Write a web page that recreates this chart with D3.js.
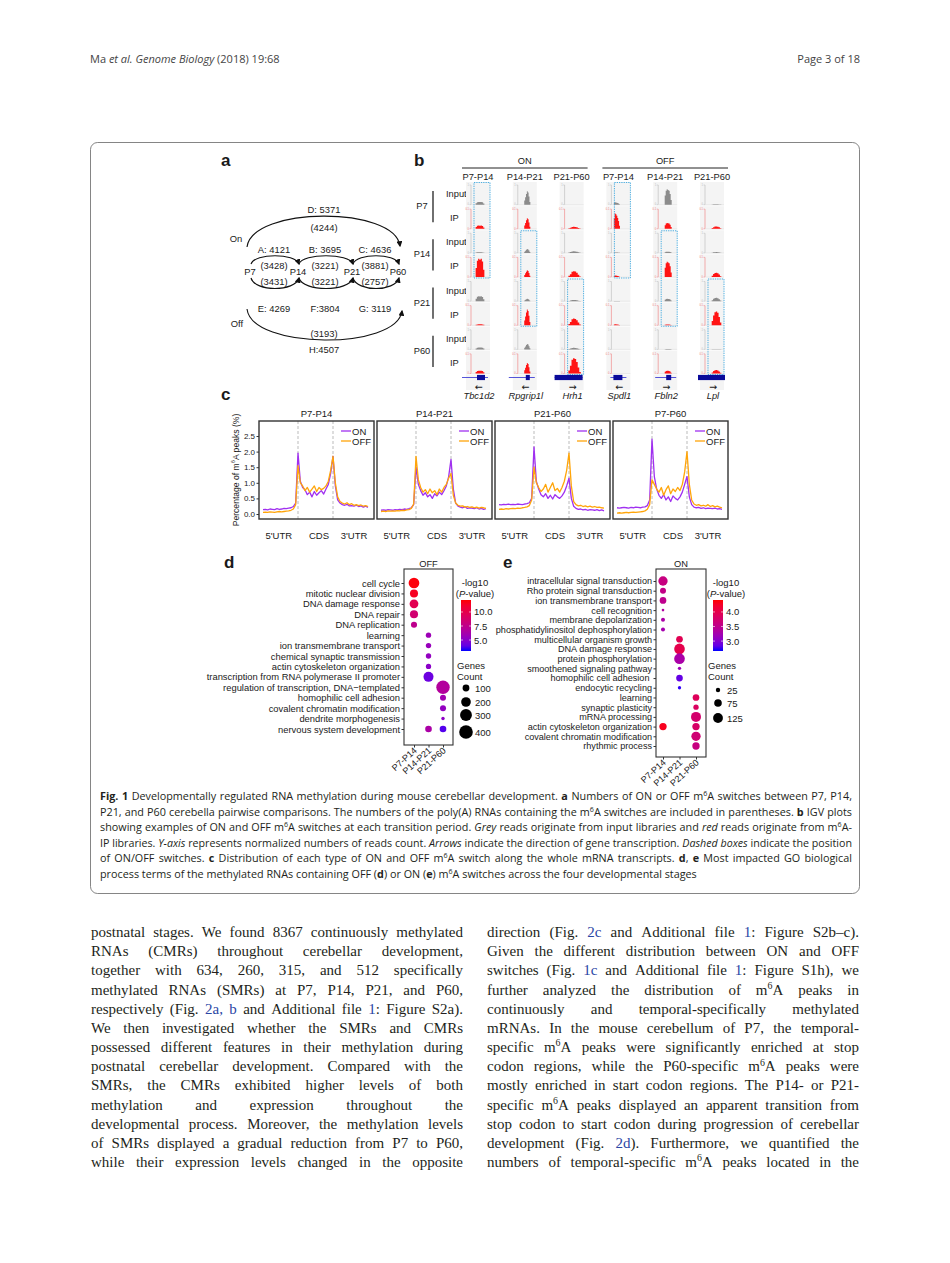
<!DOCTYPE html>
<html>
<head>
<meta charset="utf-8">
<script src="https://d3js.org/d3.v7.min.js"></script>
<style>
  body { margin: 0; background: #fff; }
</style>
</head>
<body>
<svg width="950" height="1263"></svg>
<script>
// ---------- data ----------
// panel a: [letter, separator, m6A switches, RNAs]
var stages = ["P7", "P14", "P21", "P60"];
var onSteps = [["A", ": ", 4121, 3428], ["B", ": ", 3695, 3221], ["C", ": ", 4636, 3881]];
var offSteps = [["E", ": ", 4269, 3431], ["F", ":", 3804, 3221], ["G", ": ", 3119, 2757]];
var onLong = ["D", ": ", 5371, 4244];
var offLong = ["H", ":", 4507, 3193];

// panel b
var igvGroups = ["ON", "OFF"];
var igvCols = ["P7-P14", "P14-P21", "P21-P60", "P7-P14", "P14-P21", "P21-P60"];
var igvGenes = ["Tbc1d2", "Rpgrip1l", "Hrh1", "Spdl1", "Fbln2", "Lpl"];
var igvStrand = ["\u2190", "\u2190", "\u2192", "\u2190", "\u2192", "\u2192"];
var igvStages = ["P7", "P14", "P21", "P60"];
var igvTracks = ["Input", "IP", "Input", "IP", "Input", "IP", "Input", "IP"];
// relative peak height, rows = tracks, cols = genes
var igvHeights = [
  [0.14, 0.70, 0.00, 0.12, 0.80, 0.02],
  [0.17, 0.55, 0.10, 0.80, 0.30, 0.12],
  [0.03, 0.20, 0.08, 0.02, 0.06, 0.04],
  [0.95, 0.35, 0.30, 0.08, 0.80, 0.22],
  [0.25, 0.12, 0.06, 0.01, 0.12, 0.17],
  [0.05, 0.83, 0.35, 0.05, 0.04, 0.72],
  [0.10, 0.28, 0.08, 0.00, 0.02, 0.01],
  [0.15, 0.55, 0.80, 0.00, 0.15, 0.18]
];
// coverage shape of each gene's peak
var igvShape = [
  [0, 0.5, 0.9, 1, 0.95, 1, 0.85, 0.4, 0],
  [0, 0.3, 0.55, 0.8, 1, 0.9, 0.6, 0.2, 0],
  [0, 0.2, 0.5, 0.9, 1, 0.95, 0.75, 0.4, 0.1, 0],
  [0, 0.7, 1, 0.95, 0.85, 0.7, 0.5, 0.2, 0],
  [0, 0.6, 0.9, 1, 0.95, 0.9, 0.7, 0.3, 0],
  [0, 0.3, 0.7, 0.95, 1, 0.9, 0.6, 0.2, 0]
];
var igvSwitchRow = [0, 2, 4, 0, 2, 4];

// panel c: 46 points each, 5'UTR | CDS | 3'UTR
var cPanels = ["P7-P14", "P14-P21", "P21-P60", "P7-P60"];
var cRegions = ["5'UTR", "CDS", "3'UTR"];
var cYTicks = [0, 0.5, 1, 1.5, 2, 2.5];
var cOn = [
  [0.14,0.15,0.13,0.16,0.15,0.14,0.17,0.15,0.16,0.18,0.17,0.19,0.2,0.24,0.35,
   1.95,1.05,0.85,0.78,0.62,0.7,0.55,0.72,0.6,0.68,0.75,0.64,0.8,0.95,1.3,
   1.85,0.9,0.45,0.35,0.3,0.28,0.31,0.26,0.27,0.25,0.28,0.24,0.26,0.22,0.25,0.21],
  [0.12,0.13,0.12,0.14,0.13,0.12,0.14,0.13,0.15,0.14,0.16,0.15,0.17,0.2,0.3,
   1.5,0.95,0.75,0.6,0.68,0.55,0.62,0.5,0.65,0.58,0.7,0.62,0.75,0.9,1.2,
   1.75,0.8,0.35,0.25,0.22,0.2,0.23,0.18,0.2,0.19,0.17,0.2,0.16,0.18,0.15,0.17],
  [0.3,0.29,0.31,0.3,0.32,0.3,0.31,0.3,0.32,0.31,0.3,0.32,0.33,0.36,0.5,
   2.15,1.05,0.8,0.62,0.55,0.65,0.5,0.6,0.48,0.62,0.55,0.5,0.58,0.7,0.9,
   1.15,0.5,0.25,0.18,0.15,0.16,0.13,0.15,0.12,0.14,0.13,0.12,0.14,0.11,0.13,0.1],
  [0.2,0.19,0.2,0.21,0.2,0.19,0.21,0.2,0.22,0.21,0.2,0.22,0.23,0.27,0.45,
   2.4,1.2,0.8,0.6,0.5,0.62,0.45,0.55,0.4,0.58,0.5,0.45,0.55,0.7,0.95,
   1.2,0.55,0.3,0.22,0.2,0.21,0.18,0.2,0.17,0.19,0.18,0.17,0.19,0.16,0.17,0.15]
];
var cOff = [
  [0.05,0.06,0.05,0.07,0.06,0.05,0.07,0.08,0.07,0.08,0.09,0.1,0.12,0.16,0.3,
   1.55,1.0,0.9,0.75,0.85,0.7,0.8,0.9,0.72,0.85,0.78,0.82,0.9,1.05,1.4,
   1.85,1.0,0.55,0.4,0.35,0.32,0.36,0.3,0.33,0.28,0.3,0.27,0.29,0.25,0.27,0.24],
  [0.08,0.09,0.08,0.1,0.09,0.1,0.09,0.11,0.1,0.12,0.11,0.13,0.14,0.18,0.32,
   1.85,1.1,0.85,0.7,0.78,0.65,0.8,0.68,0.75,0.62,0.8,0.7,0.85,0.95,1.15,
   1.3,0.6,0.35,0.28,0.25,0.26,0.22,0.24,0.21,0.23,0.2,0.22,0.19,0.21,0.2,0.18],
  [0.15,0.16,0.15,0.17,0.16,0.17,0.18,0.17,0.19,0.18,0.2,0.21,0.23,0.27,0.45,
   1.5,1.0,0.85,0.72,0.8,0.95,0.7,0.85,1.0,0.75,0.82,0.7,0.85,1.05,1.4,
   1.95,0.9,0.4,0.3,0.26,0.28,0.24,0.26,0.23,0.25,0.22,0.24,0.21,0.22,0.2,0.19],
  [0.03,0.04,0.03,0.04,0.05,0.04,0.05,0.06,0.05,0.06,0.07,0.08,0.1,0.15,0.3,
   1.1,0.95,0.8,0.7,0.85,0.6,0.78,0.9,0.65,0.8,0.72,0.85,0.75,0.95,1.35,
   2.0,0.95,0.45,0.32,0.28,0.3,0.26,0.28,0.25,0.3,0.24,0.27,0.23,0.25,0.22,0.2]
];

// panels d, e: [term, stage, gene count, -log10 P]
var dotStages = ["P7-P14", "P14-P21", "P21-P60"];
var offTerms = ["cell cycle", "mitotic nuclear division", "DNA damage response", "DNA repair",
  "DNA replication", "learning", "ion transmembrane transport", "chemical synaptic transmission",
  "actin cytoskeleton organization", "transcription from RNA polymerase II promoter",
  "regulation of transcription, DNA\u2212templated", "homophilic cell adhesion",
  "covalent chromatin modification", "dendrite morphogenesis", "nervous system development"];
var offDots = [
  ["cell cycle", "P7-P14", 245, 12.0], ["mitotic nuclear division", "P7-P14", 140, 11.5],
  ["DNA damage response", "P7-P14", 165, 9.8], ["DNA repair", "P7-P14", 140, 8.6],
  ["DNA replication", "P7-P14", 80, 7.4], ["learning", "P14-P21", 62, 5.8],
  ["ion transmembrane transport", "P14-P21", 62, 5.6], ["chemical synaptic transmission", "P14-P21", 62, 5.4],
  ["actin cytoskeleton organization", "P14-P21", 60, 5.1],
  ["transcription from RNA polymerase II promoter", "P14-P21", 215, 4.2],
  ["regulation of transcription, DNA\u2212templated", "P21-P60", 385, 6.8],
  ["homophilic cell adhesion", "P21-P60", 78, 6.0], ["covalent chromatin modification", "P21-P60", 78, 5.4],
  ["dendrite morphogenesis", "P21-P60", 25, 5.2], ["nervous system development", "P14-P21", 95, 6.4],
  ["nervous system development", "P21-P60", 95, 3.7]
];
var offSizeLegend = [100, 200, 300, 400];
var offColorTicks = [5.0, 7.5, 10.0];

var onTerms = ["intracellular signal transduction", "Rho protein signal transduction",
  "ion transmembrane transport", "cell recognition", "membrane depolarization",
  "phosphatidylinositol dephosphorylation", "multicellular organism growth", "DNA damage response",
  "protein phosphorylation", "smoothened signaling pathway", "homophilic cell adhesion ",
  "endocytic recycling", "learning", "synaptic plasticity", "mRNA processing",
  "actin cytoskeleton organization", "covalent chromatin modification", "rhythmic process"];
var onDots = [
  ["intracellular signal transduction", "P7-P14", 113, 3.6], ["Rho protein signal transduction", "P7-P14", 47, 3.55],
  ["ion transmembrane transport", "P7-P14", 58, 3.5], ["cell recognition", "P7-P14", 9, 3.35],
  ["membrane depolarization", "P7-P14", 21, 3.3], ["phosphatidylinositol dephosphorylation", "P7-P14", 21, 3.25],
  ["multicellular organism growth", "P14-P21", 58, 3.95], ["DNA damage response", "P14-P21", 148, 4.0],
  ["protein phosphorylation", "P14-P21", 148, 3.3], ["smoothened signaling pathway", "P14-P21", 14, 3.2],
  ["homophilic cell adhesion ", "P14-P21", 58, 2.85], ["endocytic recycling", "P14-P21", 14, 2.7],
  ["learning", "P21-P60", 58, 3.9], ["synaptic plasticity", "P21-P60", 37, 3.85],
  ["mRNA processing", "P21-P60", 130, 3.75], ["actin cytoskeleton organization", "P7-P14", 70, 4.3],
  ["actin cytoskeleton organization", "P21-P60", 70, 3.8], ["covalent chromatin modification", "P21-P60", 113, 3.7],
  ["rhythmic process", "P21-P60", 70, 3.6]
];
var onSizeLegend = [25, 75, 125];
var onColorTicks = [3.0, 3.5, 4.0];

// page text
var headerLeft = "Ma *et al.* *Genome Biology* (2018) 19:68";
var headerRight = "Page 3 of 18";
var captionLines = [
  "**Fig. 1** Developmentally regulated RNA methylation during mouse cerebellar development. **a** Numbers of ON or OFF m^6A switches between P7, P14,",
  "P21, and P60 cerebella pairwise comparisons. The numbers of the poly(A) RNAs containing the m^6A switches are included in parentheses. **b** IGV plots",
  "showing examples of ON and OFF m^6A switches at each transition period. *Grey* reads originate from input libraries and *red* reads originate from m^6A-",
  "IP libraries. *Y-axis* represents normalized numbers of reads count. *Arrows* indicate the direction of gene transcription. *Dashed boxes* indicate the position",
  "of ON/OFF switches. **c** Distribution of each type of ON and OFF m^6A switch along the whole mRNA transcripts. **d**, **e** Most impacted GO biological",
  "process terms of the methylated RNAs containing OFF (**d**) or ON (**e**) m^6A switches across the four developmental stages"
];
var leftColumn = [
  "postnatal stages. We found 8367 continuously methylated",
  "RNAs (CMRs) throughout cerebellar development,",
  "together with 634, 260, 315, and 512 specifically",
  "methylated RNAs (SMRs) at P7, P14, P21, and P60,",
  "respectively (Fig. [2a,] [b] and Additional file [1]: Figure S2a).",
  "We then investigated whether the SMRs and CMRs",
  "possessed different features in their methylation during",
  "postnatal cerebellar development. Compared with the",
  "SMRs, the CMRs exhibited higher levels of both",
  "methylation and expression throughout the",
  "developmental process. Moreover, the methylation levels",
  "of SMRs displayed a gradual reduction from P7 to P60,",
  "while their expression levels changed in the opposite"
];
var rightColumn = [
  "direction (Fig. [2c] and Additional file [1]: Figure S2b\u2013c).",
  "Given the different distribution between ON and OFF",
  "switches (Fig. [1c] and Additional file [1]: Figure S1h), we",
  "further analyzed the distribution of m^6A peaks in",
  "continuously and temporal-specifically methylated",
  "mRNAs. In the mouse cerebellum of P7, the temporal-",
  "specific m^6A peaks were significantly enriched at stop",
  "codon regions, while the P60-specific m^6A peaks were",
  "mostly enriched in start codon regions. The P14- or P21-",
  "specific m^6A peaks displayed an apparent transition from",
  "stop codon to start codon during progression of cerebellar",
  "development (Fig. [2d]). Furthermore, we quantified the",
  "numbers of temporal-specific m^6A peaks located in the"
];

// ---------- drawing ----------
var svg = d3.select("svg");
svg.append("rect").attr("width", 950).attr("height", 1263).attr("fill", "#fff");
var defs = svg.append("defs");
var fig = svg.append("g").attr("font-family", "Liberation Sans, Arial, sans-serif").attr("fill", "#1a1a1a");

// rich text helpers (markup: **bold**, *italic*, ^sup, [link])
function parseRich(str) {
  var parts = str.split(/(\*\*[^*]+\*\*|\*[^*]+\*|\^\d|\[[^\]]+\])/).filter(function(s) { return s.length; });
  var segs = parts.map(function(p) {
    if (p.slice(0, 2) === "**") return {t: p.slice(2, -2), s: "b"};
    if (p[0] === "*") return {t: p.slice(1, -1), s: "i"};
    if (p[0] === "^") return {t: p.slice(1), s: "sup"};
    if (p[0] === "[") return {t: p.slice(1, -1), s: "link"};
    return {t: p, s: ""};
  });
  var words = [[]];
  segs.forEach(function(seg) {
    seg.t.split(" ").forEach(function(pc, j) {
      if (j > 0) words.push([]);
      if (pc.length) words[words.length - 1].push({t: pc, s: seg.s});
    });
  });
  return words.filter(function(w) { return w.length; });
}

function drawWord(g, word, st) {
  var t = g.append("text").attr("font-family", st.family).attr("font-size", st.size).attr("fill", st.color);
  var up = false;
  word.forEach(function(p) {
    var ts = t.append("tspan").text(p.t);
    if (up) { ts.attr("dy", st.size * 0.38); up = false; }
    if (p.s === "b") ts.attr("font-weight", "bold");
    if (p.s === "i") ts.attr("font-style", "italic");
    if (p.s === "link") ts.attr("fill", st.link);
    if (p.s === "sup") { ts.attr("font-size", st.size * 0.66).attr("dy", -st.size * 0.38); up = true; }
  });
  return t;
}

// lays a line out over width W; returns the horizontal squeeze used
function textLine(parent, str, x, y, W, st, justify, kFixed) {
  var g = parent.append("g");
  var words = parseRich(str);
  var nodes = words.map(function(w) { return drawWord(g, w, st); });
  var widths = nodes.map(function(n) { return n.node().getComputedTextLength(); });
  var sum = d3.sum(widths), n = words.length, sp = st.size * 0.26;
  var k = 1, gap = sp;
  if (justify) {
    if (sum + (n - 1) * sp > W) { k = W / (sum + (n - 1) * sp); gap = sp * k; }
    else gap = (W - sum) / (n - 1);
  } else if (kFixed) { k = kFixed; gap = sp * k; }
  var cx = x;
  nodes.forEach(function(nd, i) {
    nd.attr("transform", "translate(" + cx + "," + y + ") scale(" + k + ",1)");
    cx += widths[i] * k + gap;
  });
  return k;
}

// ---- header ----
var hdrStyle = {family: "Open Sans, sans-serif", size: 11, color: "#444", link: "#444"};
textLine(svg, headerLeft, 90, 63, 0, hdrStyle, false, 1);
svg.append("text").attr("x", 860).attr("y", 63).attr("text-anchor", "end")
  .attr("font-family", "Open Sans, sans-serif").attr("font-size", 11).attr("fill", "#444").text(headerRight);

// ---- figure frame ----
svg.append("rect").attr("x", 90.5).attr("y", 142.5).attr("width", 769).attr("height", 751)
  .attr("rx", 7).attr("fill", "none").attr("stroke", "#666").attr("stroke-width", 0.8);

function panelLetter(t, x, y) {
  fig.append("text").attr("x", x).attr("y", y).attr("font-size", 17).attr("font-weight", "bold")
    .attr("dominant-baseline", "central").text(t);
}
panelLetter("a", 221, 160);
panelLetter("b", 414, 160);
panelLetter("c", 221, 394);
panelLetter("d", 224, 562);
panelLetter("e", 503, 562);

// ---- panel a ----
defs.append("marker").attr("id", "arr").attr("viewBox", "0 0 10 10").attr("refX", 8).attr("refY", 5)
  .attr("markerWidth", 6).attr("markerHeight", 6).attr("markerUnits", "userSpaceOnUse").attr("orient", "auto")
  .append("path").attr("d", "M0,0L10,5L0,10z").attr("fill", "#111");

var gA = fig.append("g").attr("font-size", 9.4).attr("text-anchor", "middle");
var ax = d3.scaleOrdinal().domain(stages).range([250, 298, 352, 398]);
function arcPath(x0, y0, x1, y1, cy, dx) {
  return "M" + x0 + "," + y0 + "C" + (x0 + dx) + "," + cy + " " + (x1 - dx) + "," + cy + " " + x1 + "," + y1;
}
function aText(x, y, t) {
  gA.append("text").attr("x", x).attr("y", y).attr("dominant-baseline", "central").text(t);
}
stages.forEach(function(s) { aText(ax(s), 271, s); });
onSteps.forEach(function(d, i) {
  var x0 = ax(stages[i]) + 1, x1 = ax(stages[i + 1]) + 1, xm = (ax(stages[i]) + ax(stages[i + 1])) / 2;
  gA.append("path").attr("d", arcPath(x0, 264, x1, 264, 253, 4)).attr("fill", "none")
    .attr("stroke", "#111").attr("stroke-width", 1.1).attr("marker-end", "url(#arr)");
  aText(xm, 249, d[0] + d[1] + d[2]);
  aText(xm, 265, "(" + d[3] + ")");
});
offSteps.forEach(function(d, i) {
  var x0 = ax(stages[i]) + 1, x1 = ax(stages[i + 1]) + 1, xm = (ax(stages[i]) + ax(stages[i + 1])) / 2;
  gA.append("path").attr("d", arcPath(x0, 278, x1, 278, 292, 4)).attr("fill", "none")
    .attr("stroke", "#111").attr("stroke-width", 1.1).attr("marker-end", "url(#arr)");
  aText(xm, 281, "(" + d[3] + ")");
  aText(xm, 308, d[0] + d[1] + d[2]);
});
var xL0 = ax("P7") - 3, xL1 = ax("P60") + 2, xLm = (ax("P7") + ax("P60")) / 2;
gA.append("path").attr("d", arcPath(xL0, 247, xL1, 246, 206, 5)).attr("fill", "none")
  .attr("stroke", "#111").attr("stroke-width", 1.1).attr("marker-end", "url(#arr)");
aText(xLm, 209, onLong[0] + onLong[1] + onLong[2]);
aText(xLm, 227, "(" + onLong[3] + ")");
gA.append("path").attr("d", arcPath(xL0, 309, xL1 + 2, 311, 350, 5)).attr("fill", "none")
  .attr("stroke", "#111").attr("stroke-width", 1.1).attr("marker-end", "url(#arr)");
aText(xLm, 333, "(" + offLong[3] + ")");
aText(xLm, 349, offLong[0] + offLong[1] + offLong[2]);
aText(236, 238, "On");
aText(237, 323, "Off");

// ---- panel b ----
var gB = fig.append("g").attr("font-size", 9.3);
var bx = d3.scalePoint().domain(d3.range(igvCols.length)).range([471, 705]);
var by = d3.scaleBand().domain(d3.range(igvTracks.length)).range([182, 375]);
var bw = by.bandwidth();

igvGroups.forEach(function(gname, gi) {
  var x0 = bx(gi * 3) - 9, x1 = bx(gi * 3 + 2) + 23;
  gB.append("line").attr("x1", x0).attr("x2", x1).attr("y1", 168).attr("y2", 168)
    .attr("stroke", "#222").attr("stroke-width", 1);
  gB.append("text").attr("x", (x0 + x1) / 2).attr("y", 161).attr("text-anchor", "middle")
    .attr("dominant-baseline", "central").text(gname);
});
igvCols.forEach(function(c, ci) {
  gB.append("text").attr("x", bx(ci) + 7).attr("y", 177).attr("text-anchor", "middle")
    .attr("dominant-baseline", "central").text(c);
});
igvStages.forEach(function(s, si) {
  var yIn = by(si * 2) + bw / 2, yIp = by(si * 2 + 1) + bw / 2;
  gB.append("text").attr("x", 422).attr("y", (yIn + yIp) / 2).attr("text-anchor", "middle")
    .attr("dominant-baseline", "central").text(s);
  gB.append("line").attr("x1", 433).attr("x2", 433).attr("y1", yIn - 3).attr("y2", yIp + 4)
    .attr("stroke", "#222").attr("stroke-width", 1.3);
  gB.append("text").attr("x", 446).attr("y", yIn).attr("dominant-baseline", "central").text(igvTracks[si * 2]);
  gB.append("text").attr("x", 450).attr("y", yIp).attr("dominant-baseline", "central").text(igvTracks[si * 2 + 1]);
});

igvCols.forEach(function(c, ci) {
  var a = bx(ci);
  gB.append("rect").attr("x", a - 5).attr("y", by(0)).attr("width", 24).attr("height", 390 - by(0))
    .attr("fill", "#f4f4f4");
  igvTracks.forEach(function(tr, ri) {
    var top = by(ri), bot = top + bw - 1.5, isIp = tr === "IP";
    var axCol = isIp ? "#f07a7a" : "#b8b8b8";
    gB.append("line").attr("x1", a - 5).attr("x2", a + 19).attr("y1", top + bw - 0.3).attr("y2", top + bw - 0.3)
      .attr("stroke", "#fff").attr("stroke-width", 0.6);
    gB.append("line").attr("x1", a).attr("x2", a).attr("y1", top + 3).attr("y2", bot)
      .attr("stroke", axCol).attr("stroke-width", 0.6);
    gB.append("line").attr("x1", a - 1.5).attr("x2", a).attr("y1", top + 3).attr("y2", top + 3)
      .attr("stroke", axCol).attr("stroke-width", 0.5);
    gB.append("line").attr("x1", a - 1.5).attr("x2", a).attr("y1", bot).attr("y2", bot)
      .attr("stroke", axCol).attr("stroke-width", 0.5);
    gB.append("text").attr("x", a - 2).attr("y", top + 3.8).attr("text-anchor", "end")
      .attr("font-size", 2.6).attr("fill", axCol).text(isIp ? "0.1" : "1");
    gB.append("text").attr("x", a - 2).attr("y", bot + 0.8).attr("text-anchor", "end")
      .attr("font-size", 2.6).attr("fill", axCol).text("0");
    gB.append("line").attr("x1", a).attr("x2", a + 19).attr("y1", bot).attr("y2", bot)
      .attr("stroke", "#d8d8d8").attr("stroke-width", 0.4);
    var shape = igvShape[ci], h = igvHeights[ri][ci];
    var spans = [[4, 14], [6, 13], [3, 17], [2, 9], [6, 14], [6, 17]];
    var sx = d3.scaleLinear().domain([0, shape.length - 1]).range([a + spans[ci][0], a + spans[ci][1]]);
    var sy = d3.scaleLinear().domain([0, 1]).range([bot, top + 3.5]);
    var area = d3.area().x(function(d, i) { return sx(i); }).y0(bot)
      .y1(function(d) { return sy(d * h); }).curve(d3.curveStep);
    gB.append("path").attr("d", area(shape)).attr("fill", isIp ? "#ff1414" : "#8c8c8c");
  });
  // dashed switch box
  var r0 = igvSwitchRow[ci];
  gB.append("rect").attr("x", a + 3).attr("y", by(r0) + 0.5).attr("width", 16)
    .attr("height", by(r0 + 3) + bw - by(r0) - 1).attr("fill", "none").attr("stroke", "#3aa6de")
    .attr("stroke-width", 0.9).attr("stroke-dasharray", "1.3,1");
  // gene model
  var models = [[-9, 17, 6, 14], [-9, 17, 8, 12], [-10, 18, -10, 18], [-1, 15, 2, 11], [-3, 18, 8, 13], [-7, 20, -7, 20]];
  var m = models[ci], gy = 377.5;
  gB.append("line").attr("x1", a + m[0]).attr("x2", a + m[1]).attr("y1", gy).attr("y2", gy)
    .attr("stroke", "#2b2bd0").attr("stroke-width", 0.8);
  gB.append("rect").attr("x", a + m[2]).attr("y", gy - 2.6).attr("width", m[3] - m[2]).attr("height", 5.2)
    .attr("fill", "#0a0a9a");
  gB.append("text").attr("x", a + 8).attr("y", 386).attr("text-anchor", "middle")
    .attr("font-family", "DejaVu Sans, sans-serif").attr("font-size", 9.5)
    .attr("dominant-baseline", "central").text(igvStrand[ci]);
  gB.append("text").attr("x", a + 8).attr("y", 396).attr("text-anchor", "middle").attr("font-style", "italic")
    .attr("dominant-baseline", "central").text(igvGenes[ci]);
});

// ---- panel c ----
var gC = fig.append("g").attr("font-size", 9.5);
var cBoxTop = 421, cBoxBot = 519, cW = 115;
var cPx = d3.scalePoint().domain(cPanels).range([259, 259 + 118 * 3]);
var cx = d3.scaleLinear().domain([0, 3]).range([4, 109]);
var cy = d3.scaleLinear().domain([0, 2.5]).range([514, 436]);
var cRegionX = [0.45, 1.6, 2.6];
var onCol = "#a030f0", offCol = "#ffa50a";

cPanels.forEach(function(p, pi) {
  var x0 = cPx(p);
  var g = gC.append("g").attr("transform", "translate(" + x0 + ",0)");
  g.append("text").attr("x", cW / 2).attr("y", 413).attr("text-anchor", "middle")
    .attr("dominant-baseline", "central").text(p);
  [1, 2].forEach(function(v) {
    g.append("line").attr("x1", cx(v)).attr("x2", cx(v)).attr("y1", cBoxTop).attr("y2", cBoxBot)
      .attr("stroke", "#aaa").attr("stroke-width", 0.8).attr("stroke-dasharray", "3,2");
  });
  var line = d3.line().x(function(d, i) { return cx(i / 15); }).y(function(d) { return cy(d); });
  g.append("path").attr("d", line(cOn[pi])).attr("fill", "none").attr("stroke", onCol).attr("stroke-width", 1.3)
    .attr("stroke-linejoin", "round");
  g.append("path").attr("d", line(cOff[pi])).attr("fill", "none").attr("stroke", offCol).attr("stroke-width", 1.3)
    .attr("stroke-linejoin", "round");
  g.append("rect").attr("x", 0).attr("y", cBoxTop).attr("width", cW).attr("height", cBoxBot - cBoxTop)
    .attr("fill", "none").attr("stroke", "#333").attr("stroke-width", 1.4);
  [["ON", onCol, 431], ["OFF", offCol, 441]].forEach(function(l) {
    g.append("line").attr("x1", 82).attr("x2", 92).attr("y1", l[2]).attr("y2", l[2])
      .attr("stroke", l[1]).attr("stroke-width", 1.3);
    g.append("text").attr("x", 93).attr("y", l[2]).attr("dominant-baseline", "central").text(l[0]);
  });
  cRegions.forEach(function(r, ri) {
    g.append("text").attr("x", cx(cRegionX[ri])).attr("y", 535).attr("text-anchor", "middle")
      .attr("dominant-baseline", "central").text(r);
  });
});
var cAxis = gC.append("g").attr("transform", "translate(" + cPx(cPanels[0]) + ",0)")
  .call(d3.axisLeft(cy).tickValues(cYTicks).tickFormat(d3.format(".1f")).tickSize(2.5).tickPadding(1.5));
cAxis.select(".domain").remove();
cAxis.selectAll("text").attr("font-size", 8).attr("font-family", "Liberation Sans, Arial, sans-serif").attr("fill", "#1a1a1a");
cAxis.selectAll("line").attr("stroke", "#333");
var yl = gC.append("text").attr("transform", "translate(236,470) rotate(-90)").attr("text-anchor", "middle")
  .attr("dominant-baseline", "central").attr("font-size", 8.6);
yl.append("tspan").text("Percentage of m");
yl.append("tspan").attr("font-size", 5.8).attr("dy", -3).text("6");
yl.append("tspan").attr("dy", 3).text("A peaks (%)");

// ---- panels d, e ----
function dotPanel(cfg) {
  var g = fig.append("g").attr("font-size", cfg.fs);
  var y = d3.scalePoint().domain(cfg.terms).range([cfg.r0, cfg.r1]);
  var x = d3.scalePoint().domain(dotStages).range([cfg.c0, cfg.c1]);
  var col = d3.scaleLinear().domain(cfg.cdom).range(["#0000ff", "#ff0000"]).interpolate(d3.interpolateLab);
  var size = d3.scaleSqrt().domain([0, cfg.smax]).range([0, cfg.rmax]);

  g.append("text").attr("x", (cfg.bx0 + cfg.bx1) / 2).attr("y", 564).attr("text-anchor", "middle")
    .attr("dominant-baseline", "central").attr("font-size", 9.3).text(cfg.title);
  g.selectAll("circle.dot").data(cfg.dots).enter().append("circle").attr("class", "dot")
    .attr("cx", function(d) { return x(d[1]); }).attr("cy", function(d) { return y(d[0]); })
    .attr("r", function(d) { return size(d[2]); }).attr("fill", function(d) { return col(d[3]); });
  g.append("rect").attr("x", cfg.bx0).attr("y", cfg.by0).attr("width", cfg.bx1 - cfg.bx0)
    .attr("height", cfg.by1 - cfg.by0).attr("fill", "none").attr("stroke", "#333").attr("stroke-width", 1.1);

  var ya = g.append("g").attr("transform", "translate(" + cfg.bx0 + ",0)")
    .call(d3.axisLeft(y).tickSize(2.5).tickPadding(1.5));
  ya.select(".domain").remove();
  ya.selectAll("text").attr("font-size", cfg.fs).attr("font-family", "Liberation Sans, Arial, sans-serif")
    .attr("fill", "#1a1a1a").style("white-space", "pre");
  ya.selectAll("line").attr("stroke", "#333");
  var xa = g.append("g").attr("transform", "translate(0," + cfg.by1 + ")")
    .call(d3.axisBottom(x).tickSize(2.5).tickPadding(2));
  xa.select(".domain").remove();
  xa.selectAll("line").attr("stroke", "#333");
  xa.selectAll("text").attr("font-size", 9).attr("font-family", "Liberation Sans, Arial, sans-serif")
    .attr("fill", "#1a1a1a").attr("text-anchor", "end").attr("dy", "0.5em")
    .attr("transform", "translate(0,3) rotate(-42)").attr("y", 0).attr("x", 0);

  // colour bar
  var gid = "grad" + cfg.title;
  var grad = defs.append("linearGradient").attr("id", gid).attr("x1", 0).attr("x2", 0).attr("y1", 1).attr("y2", 0);
  d3.range(0, 1.01, 0.1).forEach(function(t) {
    grad.append("stop").attr("offset", t).attr("stop-color", col(cfg.cdom[0] + t * (cfg.cdom[1] - cfg.cdom[0])));
  });
  var cb = d3.scaleLinear().domain(cfg.cdom).range([cfg.cby + cfg.cbh, cfg.cby]);
  g.append("rect").attr("x", cfg.cbx).attr("y", cfg.cby).attr("width", 10).attr("height", cfg.cbh)
    .attr("fill", "url(#" + gid + ")");
  cfg.cticks.forEach(function(v) {
    g.append("line").attr("x1", cfg.cbx).attr("x2", cfg.cbx + 2).attr("y1", cb(v)).attr("y2", cb(v))
      .attr("stroke", "#fff").attr("stroke-width", 0.6);
    g.append("line").attr("x1", cfg.cbx + 8).attr("x2", cfg.cbx + 10).attr("y1", cb(v)).attr("y2", cb(v))
      .attr("stroke", "#fff").attr("stroke-width", 0.6);
    g.append("text").attr("x", cfg.cbx + 13).attr("y", cb(v)).attr("dominant-baseline", "central")
      .attr("font-size", 9.5).text(d3.format(".1f")(v));
  });
  g.append("text").attr("x", cfg.lgx).attr("y", 582).attr("text-anchor", "middle").attr("dominant-baseline", "central")
    .attr("font-size", 9.5).text("-log10");
  var pv = g.append("text").attr("x", cfg.lgx).attr("y", 593).attr("text-anchor", "middle")
    .attr("dominant-baseline", "central").attr("font-size", 9.5);
  pv.append("tspan").text("(");
  pv.append("tspan").attr("font-style", "italic").text("P");
  pv.append("tspan").text("-value)");
  g.append("text").attr("x", cfg.gx).attr("y", 665).attr("dominant-baseline", "central").attr("font-size", 9.5).text("Genes");
  g.append("text").attr("x", cfg.gx).attr("y", 676).attr("dominant-baseline", "central").attr("font-size", 9.5).text("Count");
  cfg.sizes.forEach(function(v, i) {
    g.append("circle").attr("cx", cfg.sdx).attr("cy", cfg.sdy[i]).attr("r", size(v)).attr("fill", "#000");
    g.append("text").attr("x", cfg.sdx + 9).attr("y", cfg.sdy[i]).attr("dominant-baseline", "central")
      .attr("font-size", 9.5).text(v);
  });
}

dotPanel({title: "OFF", terms: offTerms, dots: offDots, fs: 9.4,
  r0: 583, r1: 729, c0: 414, c1: 443, bx0: 404, bx1: 453, by0: 569, by1: 745,
  cdom: [3.04, 12.14], cticks: offColorTicks, smax: 420, rmax: 7, sizes: offSizeLegend,
  cbx: 461, cby: 600, cbh: 51, lgx: 475, gx: 457, sdx: 466, sdy: [688, 702, 715, 732]});
dotPanel({title: "ON", terms: onTerms, dots: onDots, fs: 9.1,
  r0: 581, r1: 746, c0: 663, c1: 696, bx0: 656, bx1: 706, by0: 569, by1: 757,
  cdom: [2.66, 4.41], cticks: onColorTicks, smax: 125, rmax: 4.9, sizes: onSizeLegend,
  cbx: 713, cby: 600, cbh: 51, lgx: 726, gx: 708, sdx: 718, sdy: [690, 703, 718]});

// ---- caption ----
var capStyle = {family: "Open Sans, sans-serif", size: 10.8, color: "#231f20", link: "#231f20"};
var capK = 1;
captionLines.forEach(function(l, i) {
  var last = i === captionLines.length - 1;
  var k = textLine(svg, l, 100, 800 + i * 15.6, 752, capStyle, !last, capK);
  if (!last) capK = k;
});

// ---- body text ----
var bodyStyle = {family: "Liberation Serif, Times New Roman, serif", size: 15, color: "#231f20", link: "#2a46a5"};
leftColumn.forEach(function(l, i) { textLine(svg, l, 91, 937 + i * 19.17, 372, bodyStyle, true); });
rightColumn.forEach(function(l, i) { textLine(svg, l, 487, 937 + i * 19.17, 372, bodyStyle, true); });
</script>
</body>
</html>
